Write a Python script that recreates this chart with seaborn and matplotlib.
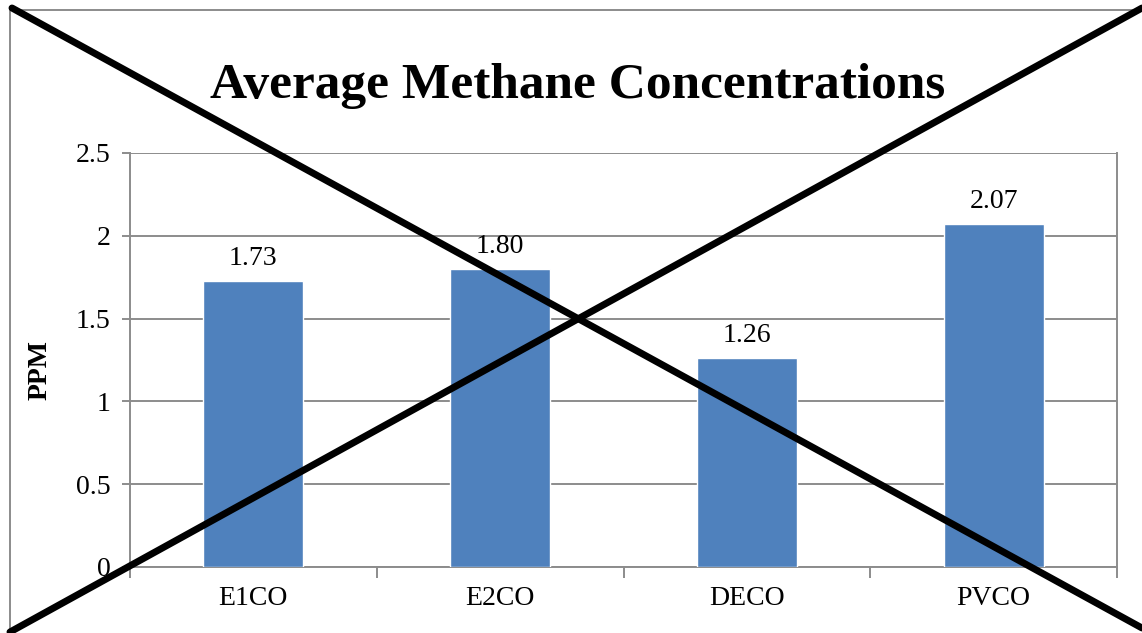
import seaborn as sns
import matplotlib.pyplot as plt
import pandas as pd
from matplotlib.lines import Line2D
from matplotlib.patches import Rectangle

# chart data
sites = ['E1CO', 'E2CO', 'DECO', 'PVCO']
ppm = [1.73, 1.80, 1.26, 2.07]
yticks = [0, 0.5, 1, 1.5, 2, 2.5]
ytick_labels = ['0', '0.5', '1', '1.5', '2', '2.5']

df = pd.DataFrame({'site': sites, 'ppm': ppm})

sns.set_style('white')
plt.rcParams['font.family'] = ['Liberation Serif', 'DejaVu Serif']
plt.rcParams['text.color'] = 'black'
plt.rcParams['xtick.color'] = 'black'
plt.rcParams['ytick.color'] = 'black'
plt.rcParams['axes.labelcolor'] = 'black'

W, H = 1142, 633
fig = plt.figure(figsize=(W / 100, H / 100), dpi=100)
ax = fig.add_axes([130 / W, 1 - 567 / H, (1117 - 130) / W, (567 - 153) / H])

sns.barplot(data=df, x='site', y='ppm', color='#4F81BD', width=0.405,
            saturation=1, ax=ax, zorder=3)

ax.set_ylim(0, 2.5)
ax.set_xlim(-0.5, len(sites) - 0.5)
ax.set_yticks(yticks)
ax.set_yticklabels(ytick_labels)
grid_col = '#8c8c8c'
ax.yaxis.grid(True, color=grid_col, linewidth=1.4, zorder=0)
ax.set_axisbelow(True)
for s in ax.spines.values():
    s.set_color(grid_col)
    s.set_linewidth(1.4)
ax.spines['top'].set_visible(False)

# y ticks outside, x ticks at category boundaries
ax.tick_params(axis='y', length=6, width=1.4, color=grid_col, labelsize=20, pad=8,
               direction='out', left=True, labelcolor='black')
ax.set_xticks(range(len(sites)))
ax.set_xticklabels(sites)
ax.tick_params(axis='x', length=0, labelsize=20, pad=14, labelcolor='black')
ax.set_xticks([i - 0.5 for i in range(len(sites) + 1)], minor=True)
ax.tick_params(axis='x', which='minor', length=8, width=1.4, color=grid_col,
               direction='out', bottom=True)

ax.set_xlabel('')
ax.set_ylabel('')
fig.text(40 / W, 1 - 370 / H, 'PPM', rotation=90, ha='center', va='center',
         fontsize=20, fontweight='bold')

for i, v in enumerate(ppm):
    ax.text(i, v + 0.06, f'{v:.2f}', ha='center', va='bottom', fontsize=20)

fig.text(578 / W, 1 - 86 / H, 'Average Methane Concentrations', ha='center',
         va='center', fontsize=37, fontweight='bold')

# chart border
fig.patches.append(Rectangle((10 / W, -0.1), 1.2, 1 - 10 / H + 0.1,
                             transform=fig.transFigure, fill=False,
                             edgecolor='#8c8c8c', linewidth=1.4))

# the big cross over the chart
fig.lines.append(Line2D([12 / W, 1.0], [1 - 8 / H, 1 - 628 / H],
                        transform=fig.transFigure, color='black', linewidth=5))
fig.lines.append(Line2D([10 / W, 1.0], [1 - 632 / H, 1 - 8 / H],
                        transform=fig.transFigure, color='black', linewidth=5))

fig.savefig('out.png', dpi=100)
